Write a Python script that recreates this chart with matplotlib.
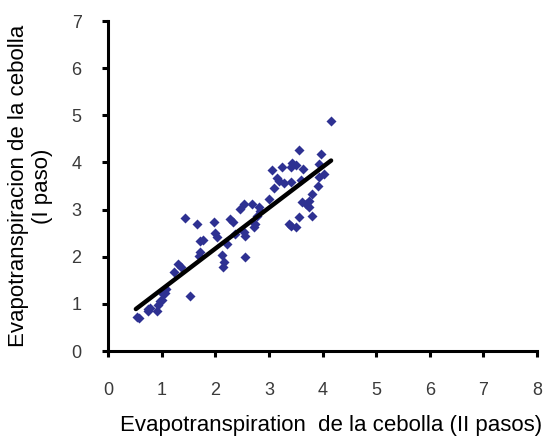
import matplotlib.pyplot as plt
import numpy as np

# evapotranspiration values (II pasos vs I paso)
et_2pasos = [0.55, 0.58, 0.75, 0.74, 0.78, 0.92, 0.94, 0.97, 1.00, 1.03, 1.06, 1.09,
             1.24, 1.31, 1.37, 1.44, 1.53, 1.66, 1.69, 1.72, 1.72, 1.78, 1.97, 2.00,
             2.03, 2.12, 2.17, 2.14, 2.22, 2.27, 2.34, 2.37, 2.47, 2.53, 2.54, 2.56,
             2.56, 2.69, 2.72, 2.75, 2.81, 2.84, 2.78, 3.00, 3.05, 3.09, 3.16, 3.19,
             3.24, 3.28, 3.37, 3.41, 3.42, 3.44, 3.50, 3.50, 3.41, 3.56, 3.56, 3.59,
             3.64, 3.62, 3.69, 3.74, 3.75, 3.81, 3.81, 3.91, 3.94, 3.97, 3.94, 4.03,
             4.16]
et_1paso = [0.72, 0.70, 0.89, 0.84, 0.92, 0.85, 0.98, 1.06, 1.08, 1.20, 1.24, 1.31,
            1.67, 1.84, 1.79, 2.82, 1.17, 2.70, 2.02, 2.09, 2.33, 2.35, 2.74, 2.50,
            2.41, 2.04, 1.88, 1.79, 2.26, 2.79, 2.73, 2.48, 3.01, 3.11, 2.52, 2.45,
            2.00, 3.12, 2.64, 2.70, 3.05, 2.98, 2.87, 3.23, 3.84, 3.46, 3.67, 3.60,
            3.90, 3.57, 2.70, 2.66, 3.90, 3.99, 3.94, 2.62, 3.58, 4.26, 2.85, 3.62,
            3.87, 3.16, 3.12, 3.06, 3.19, 3.33, 2.87, 3.51, 3.69, 4.18, 3.97, 3.76,
            4.88]

# trend line end points
fit_x = [0.52, 4.16]
fit_y = [0.89, 4.04]

plt.rcParams['font.family'] = ['Liberation Sans', 'DejaVu Sans']

fig = plt.figure(figsize=(5.48, 4.38), dpi=100)
ax = fig.add_axes([108 / 548, 1 - 351 / 438, (537 - 108) / 548, (351 - 21) / 438])

ax.scatter(et_2pasos, et_1paso, marker='D', s=26, color='#2e3192', linewidths=0, zorder=3)
ax.plot(fit_x, fit_y, color='black', linewidth=3.2, solid_capstyle='round', zorder=4)

ax.set_xlim(0, 8)
ax.set_ylim(0, 7)
ax.set_xticks(range(0, 9))
ax.set_yticks(range(0, 8))

for side in ['top', 'right']:
    ax.spines[side].set_visible(False)
for side in ['left', 'bottom']:
    ax.spines[side].set_linewidth(2.2)
ax.tick_params(direction='out', length=4, width=2.2, labelsize=13, labelcolor='#3a3a3a')
ax.tick_params(axis='x', pad=18)
ax.tick_params(axis='y', pad=15)

ax.set_xlabel('Evapotranspiration  de la cebolla (II pasos)', fontsize=16, labelpad=12)
ax.xaxis.label.set_x(0.52)
ax.set_ylabel('Evapotranspiracion de la cebolla\n(I paso)', fontsize=16, labelpad=13)

fig.savefig('out.png', dpi=100)
